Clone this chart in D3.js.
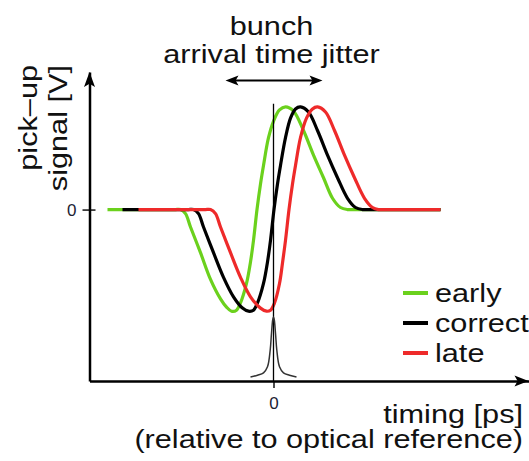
<!DOCTYPE html>
<html>
<head>
<meta charset="utf-8">
<script src="https://cdn.jsdelivr.net/npm/d3@7"></script>
<style>
  html, body { margin: 0; padding: 0; background: #fff; }
  svg { display: block; }
</style>
</head>
<body>
<svg id="chart" width="529" height="461"></svg>
<script>
// Pick-up signal for three bunch arrival times, as [timing, signal] pairs
const earlySignal = [
  [-16.6, 0], [-10.3, 0], [-9.8, 0], [-9.3, 0], [-8.8, -0.04], [-8.3, -0.17], [-7.3, -0.42],
  [-6.3, -0.68], [-5.3, -0.87], [-4.7, -0.95], [-4.2, -0.99], [-3.7, -0.98], [-3.3, -0.91],
  [-2.7, -0.72], [-2.3, -0.51], [-2.0, -0.30], [-1.65, 0], [-1.3, 0.25], [-1.0, 0.43],
  [-0.5, 0.70], [0.0, 0.86], [0.6, 0.97], [1.2, 1.0], [2.0, 0.96], [3.0, 0.77], [4.0, 0.53],
  [5.0, 0.31], [5.9, 0.11], [6.7, 0.02], [7.4, 0], [7.9, 0], [8.4, 0], [16.7, 0]
];
const correctSignal = [
  [-15.1, 0], [-9.0, 0], [-8.5, 0], [-8.0, 0], [-7.5, -0.04], [-7.0, -0.17], [-6.0, -0.42],
  [-5.0, -0.66], [-4.0, -0.85], [-3.1, -0.96], [-2.5, -0.99], [-2.0, -0.98], [-1.6, -0.91],
  [-1.0, -0.72], [-0.6, -0.51], [-0.3, -0.30], [0.05, 0], [0.4, 0.25], [0.7, 0.43],
  [1.2, 0.70], [1.7, 0.89], [2.2, 0.98], [2.7, 1.0], [3.5, 0.95], [4.4, 0.77], [5.4, 0.53],
  [6.4, 0.31], [7.4, 0.11], [8.2, 0.02], [8.9, 0], [9.4, 0], [9.9, 0], [16.7, 0]
];
const lateSignal = [
  [-13.5, 0], [-7.3, 0], [-6.8, 0], [-6.3, 0], [-5.8, -0.04], [-5.3, -0.17], [-4.3, -0.42],
  [-3.3, -0.66], [-2.3, -0.85], [-1.3, -0.96], [-0.7, -0.99], [-0.3, -0.98], [0.1, -0.91],
  [0.6, -0.72], [0.9, -0.52], [1.2, -0.30], [1.55, 0], [1.9, 0.25], [2.2, 0.43], [2.7, 0.70],
  [3.3, 0.89], [3.9, 0.98], [4.4, 1.0], [5.2, 0.95], [6.1, 0.77], [7.1, 0.53],
  [8.1, 0.31], [9.1, 0.11], [9.9, 0.02], [10.5, 0], [11.0, 0], [11.5, 0], [16.7, 0]
];

// Arrival time distribution around the optical reference: [timing, relative density]
const jitterProfile = [
  [-2.3, 0], [-1.6, 0.03], [-1.0, 0.07], [-0.6, 0.17], [-0.33, 0.45], [-0.2, 0.73],
  [-0.08, 0.95], [0, 1], [0.08, 0.95], [0.2, 0.73], [0.33, 0.45], [0.6, 0.17],
  [1.0, 0.07], [1.6, 0.03], [2.3, 0]
];

const seriesNames = ["early", "correct", "late"];
const seriesColors = ["#6bd11d", "#000000", "#ee2a2a"];
const seriesData = [earlySignal, correctSignal, lateSignal];

const xTickValues = [0];
const xTickLabels = ["0"];
const yTickValues = [0];
const yTickLabels = ["0"];

const titleLines = ["bunch", "arrival time jitter"];
const xTitleLines = ["timing [ps]", "(relative to optical reference)"];
const yTitleLines = ["pick\u2013up", "signal [V]"];

// ---------------------------------------------------------------------------
const svg = d3.select("#chart");
const FONT = "'Liberation Sans', Arial, Helvetica, sans-serif";
const WIDE = 1.18;   // the lettering is a little wider than plain Arial

const x = d3.scaleLinear().domain([-18.4, 25.5]).range([89.5, 528.5]);
const y = d3.scaleLinear().domain([-1.67, 1.34]).range([381, 72]);
const jy = d3.scaleLinear().domain([0, 1]).range([377, 317]);

function arrowHead(g, tipX, tipY, angleDeg, len, half) {
  const back = len * 0.78;
  const p = `M0,0 L${-len},${-half} L${-back},0 L${-len},${half} Z`;
  g.append("path")
    .attr("d", p)
    .attr("transform", `translate(${tipX},${tipY}) rotate(${angleDeg})`)
    .attr("fill", "#000");
}

function label(text, tx, ty, anchor, rot) {
  svg.append("text")
    .attr("transform", `translate(${tx},${ty}) rotate(${rot || 0}) scale(${WIDE},1)`)
    .attr("text-anchor", anchor)
    .attr("font-family", FONT)
    .attr("font-size", 26)
    .attr("fill", "#111")
    .text(text);
}

// Axes
const xAxis = d3.axisBottom(x)
  .tickValues(xTickValues)
  .tickFormat((d, i) => xTickLabels[i])
  .tickSizeInner(7).tickSizeOuter(0).tickPadding(9);
const gx = svg.append("g").attr("transform", `translate(0,${y(-1.67)})`).call(xAxis);
gx.select(".domain").attr("stroke", "#000").attr("stroke-width", 2.5);
gx.selectAll(".tick line").attr("stroke", "#000").attr("stroke-width", 1.4);
gx.selectAll(".tick text").attr("font-family", FONT).attr("font-size", 17).attr("fill", "#1c2233");

const yAxis = d3.axisLeft(y)
  .tickValues(yTickValues)
  .tickFormat((d, i) => yTickLabels[i])
  .tickSizeInner(7).tickSizeOuter(0).tickPadding(6);
const gy = svg.append("g").attr("transform", `translate(${x(-18.4)},0)`).call(yAxis);
gy.select(".domain").attr("stroke", "#000").attr("stroke-width", 2.5);
gy.selectAll(".tick line").attr("x1", 6).attr("stroke", "#000").attr("stroke-width", 1.4);
gy.selectAll(".tick text").attr("font-family", FONT).attr("font-size", 17).attr("fill", "#1c2233");

arrowHead(svg, x(25.5), y(-1.67), 0, 14, 5.5);
arrowHead(svg, x(-18.4), y(1.34), -90, 15, 5.5);

// Signals
const line = d3.line()
  .x(d => x(d[0]))
  .y(d => y(d[1]))
  .curve(d3.curveCatmullRom.alpha(0.5));

svg.append("g").selectAll("path")
  .data(seriesData)
  .join("path")
  .attr("d", line)
  .attr("fill", "none")
  .attr("stroke", (d, i) => seriesColors[i])
  .attr("stroke-width", 3.2)
  .attr("stroke-linejoin", "round")
  .attr("stroke-linecap", "butt");

// Optical reference marker and arrival time distribution
svg.append("line")
  .attr("x1", x(0)).attr("x2", x(0))
  .attr("y1", y(1.03)).attr("y2", y(-1.67))
  .attr("stroke", "#000").attr("stroke-width", 1.3);

svg.append("path")
  .datum(jitterProfile)
  .attr("d", d3.line().x(d => x(d[0])).y(d => jy(d[1])).curve(d3.curveCatmullRom.alpha(0.5)))
  .attr("fill", "none")
  .attr("stroke", "#333")
  .attr("stroke-width", 1.5);

// Jitter arrow
const jitterSpan = [-4.8, 4.9];
svg.append("line")
  .attr("x1", x(jitterSpan[0]) + 6).attr("x2", x(jitterSpan[1]) - 6)
  .attr("y1", 80.5).attr("y2", 80.5)
  .attr("stroke", "#000").attr("stroke-width", 1.8);
arrowHead(svg, x(jitterSpan[0]), 80.5, 180, 13, 5);
arrowHead(svg, x(jitterSpan[1]), 80.5, 0, 13, 5);

// Legend
const legend = svg.append("g");
const legendY = [293, 323, 353];
seriesNames.forEach((name, i) => {
  legend.append("line")
    .attr("x1", 403).attr("x2", 428)
    .attr("y1", legendY[i]).attr("y2", legendY[i])
    .attr("stroke", seriesColors[i]).attr("stroke-width", 4);
  legend.append("text")
    .attr("transform", `translate(435,${legendY[i] + 9}) scale(${WIDE},1)`)
    .attr("font-family", FONT).attr("font-size", 26).attr("fill", "#111")
    .text(name);
});

// Titles
label(titleLines[0], 271.5, 35, "middle");
label(titleLines[1], 271.5, 63, "middle");
label(xTitleLines[0], 523, 423, "end");
label(xTitleLines[1], 523, 448, "end");
label(yTitleLines[0], 37, 65, "end", -90);
label(yTitleLines[1], 67, 65, "end", -90);
</script>
</body>
</html>
